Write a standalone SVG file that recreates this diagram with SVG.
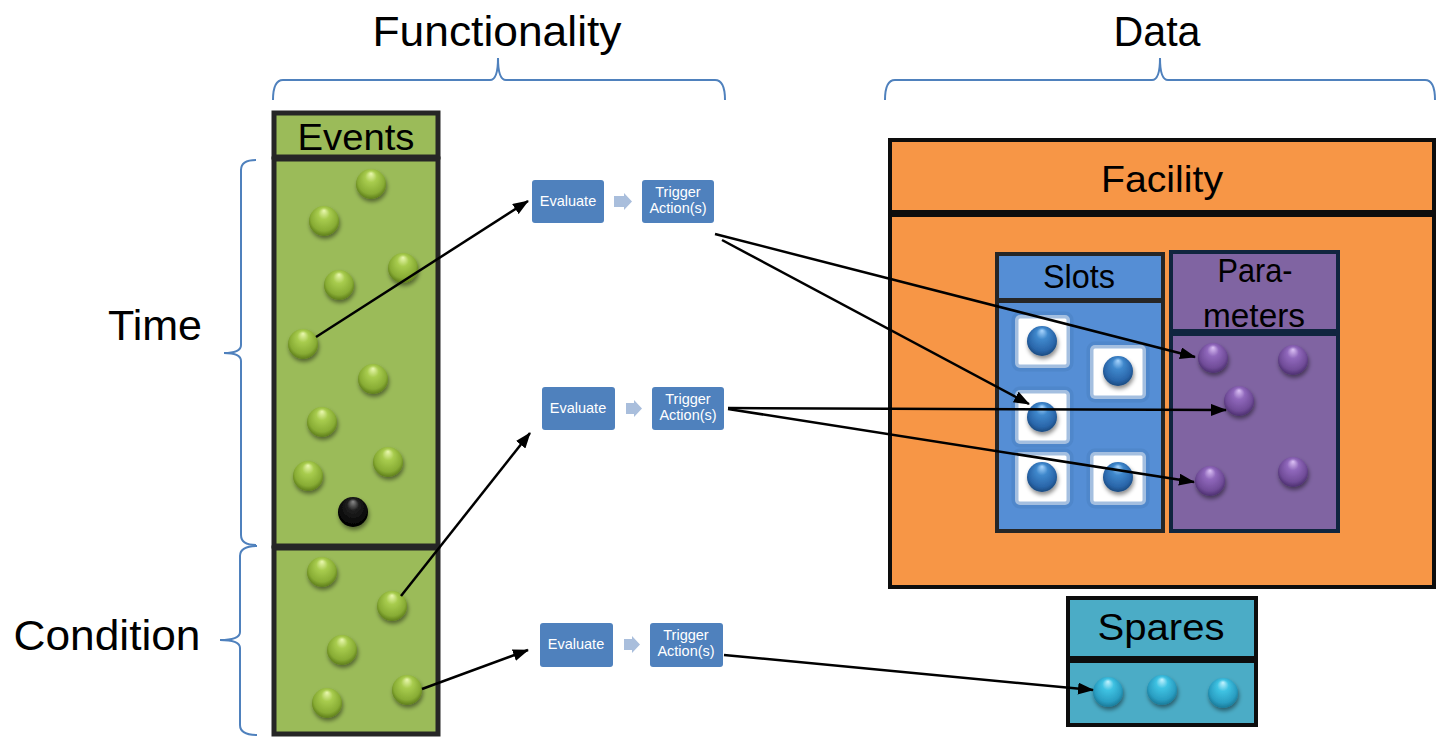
<svg xmlns="http://www.w3.org/2000/svg" width="1437" height="737" viewBox="0 0 1437 737">
  <style>
    .lbl { font-family: "Liberation Sans", Arial, sans-serif; fill: #000; }
    .big { font-size: 42px; }
    .hdr { font-size: 37px; }
    .btn { font-family: "Liberation Sans", Arial, sans-serif; font-size: 14.5px; fill: #fff; }
    .brace { fill: none; stroke: #4F81BD; stroke-width: 2; }
    .box { fill: #4F81BD; }
    .flow { fill: #A9BEDC; }
    .conn { fill: none; stroke: #000; stroke-width: 2.5; marker-end: url(#arrow); }
    .slotbox { fill: #fff; stroke: #4a7fc2; stroke-width: 7; stroke-opacity: 0.5; }
  </style>
  <defs>
    <marker id="arrow" viewBox="0 0 16 12" markerWidth="16" markerHeight="12" refX="15" refY="6" orient="auto" markerUnits="userSpaceOnUse">
      <path d="M0,0 L16,6 L0,12 z" fill="#000"/>
    </marker>
    <filter id="shadow" x="-50%" y="-50%" width="200%" height="200%">
      <feDropShadow dx="1" dy="3" stdDeviation="2" flood-color="#000" flood-opacity="0.45"/>
    </filter>
    <radialGradient id="gGreen" cx="0.5" cy="0.45" r="0.55" fx="0.5" fy="0.15">
      <stop offset="0" stop-color="#EAF8B0"/>
      <stop offset="0.35" stop-color="#A8CC4E"/>
      <stop offset="0.8" stop-color="#88AC34"/>
      <stop offset="1" stop-color="#5E7E1A"/>
    </radialGradient>
    <radialGradient id="gBlack" cx="0.5" cy="0.45" r="0.55" fx="0.5" fy="0.15">
      <stop offset="0" stop-color="#8a8a8a"/>
      <stop offset="0.35" stop-color="#202020"/>
      <stop offset="1" stop-color="#000"/>
    </radialGradient>
    <radialGradient id="gBlue" cx="0.5" cy="0.45" r="0.55" fx="0.5" fy="0.15">
      <stop offset="0" stop-color="#A9D6FF"/>
      <stop offset="0.35" stop-color="#3F88CC"/>
      <stop offset="0.8" stop-color="#2A66AA"/>
      <stop offset="1" stop-color="#1A4A80"/>
    </radialGradient>
    <radialGradient id="gPurple" cx="0.5" cy="0.45" r="0.55" fx="0.5" fy="0.15">
      <stop offset="0" stop-color="#DCC2F5"/>
      <stop offset="0.35" stop-color="#9068BC"/>
      <stop offset="0.8" stop-color="#704C98"/>
      <stop offset="1" stop-color="#4D3070"/>
    </radialGradient>
    <radialGradient id="gCyan" cx="0.5" cy="0.45" r="0.55" fx="0.5" fy="0.15">
      <stop offset="0" stop-color="#C4F3FF"/>
      <stop offset="0.35" stop-color="#3EC2E2"/>
      <stop offset="0.8" stop-color="#2A9EC2"/>
      <stop offset="1" stop-color="#1A7A98"/>
    </radialGradient>
  </defs>

  <rect x="0" y="0" width="1437" height="737" fill="#fff"/>

  <!-- column headings and braces -->
  <g id="headings">
    <text class="lbl big" x="497" y="46" text-anchor="middle" textLength="249" lengthAdjust="spacingAndGlyphs">Functionality</text>
    <text class="lbl big" x="1157" y="46" text-anchor="middle" textLength="87" lengthAdjust="spacingAndGlyphs">Data</text>
    <text class="lbl big" x="155" y="340" text-anchor="middle" textLength="94" lengthAdjust="spacingAndGlyphs">Time</text>
    <text class="lbl big" x="107" y="650" text-anchor="middle" textLength="187" lengthAdjust="spacingAndGlyphs">Condition</text>
    <path class="brace" d="M273,100 Q273,80 283,80 L490,80 Q498,80 498,58 Q498,80 506,80 L715,80 Q725,80 725,100"/>
    <path class="brace" d="M885,100 Q885,80 895,80 L1152,80 Q1160,80 1160,58 Q1160,80 1168,80 L1425,80 Q1435,80 1435,100"/>
    <path class="brace" d="M256,160 Q241,160 241,170 L241,345 Q241,353 224,353 Q241,353 241,361 L241,535 Q241,545 256,545"/>
    <path class="brace" d="M257,546 Q240,546 240,556 L240,632 Q240,640 220,640 Q240,640 240,648 L240,725 Q240,735 257,735"/>
  </g>

  <!-- Events column -->
  <g id="events">
    <rect x="274" y="113" width="164" height="44" fill="#9BBB59" stroke="#262626" stroke-width="5"/>
    <text class="lbl hdr" x="356" y="150" text-anchor="middle" textLength="117" lengthAdjust="spacingAndGlyphs">Events</text>
    <rect x="274" y="159" width="164" height="387" fill="#9BBB59" stroke="#262626" stroke-width="5"/>
    <rect x="274" y="548" width="164" height="186" fill="#9BBB59" stroke="#262626" stroke-width="5"/>
    <g filter="url(#shadow)">
      <circle cx="371" cy="184" r="15" fill="url(#gGreen)"/>
      <circle cx="324" cy="221" r="15" fill="url(#gGreen)"/>
      <circle cx="339" cy="285" r="15" fill="url(#gGreen)"/>
      <circle cx="403" cy="268" r="15" fill="url(#gGreen)"/>
      <circle cx="303" cy="344" r="15" fill="url(#gGreen)"/>
      <circle cx="373" cy="379" r="15" fill="url(#gGreen)"/>
      <circle cx="322" cy="422" r="15" fill="url(#gGreen)"/>
      <circle cx="308" cy="476" r="15" fill="url(#gGreen)"/>
      <circle cx="388" cy="462" r="15" fill="url(#gGreen)"/>
      <circle cx="353" cy="512" r="15" fill="url(#gBlack)"/>
      <circle cx="322" cy="572" r="15" fill="url(#gGreen)"/>
      <circle cx="392" cy="606" r="15" fill="url(#gGreen)"/>
      <circle cx="342" cy="650" r="15" fill="url(#gGreen)"/>
      <circle cx="327" cy="703" r="15" fill="url(#gGreen)"/>
      <circle cx="407" cy="690" r="15" fill="url(#gGreen)"/>
    </g>
  </g>

  <!-- Evaluate / Trigger pairs -->
  <g id="flow1">
    <rect class="box" x="532" y="180" width="72" height="43" rx="3"/>
    <text class="btn" x="568" y="206" text-anchor="middle">Evaluate</text>
    <polygon class="flow" points="614,196 624,196 624,193 632,201.5 624,210 624,207 614,207"/>
    <rect class="box" x="642" y="180" width="72" height="43" rx="3"/>
    <text class="btn" x="678" y="197" text-anchor="middle">Trigger</text>
    <text class="btn" x="678" y="213" text-anchor="middle">Action(s)</text>
  </g>
  <g id="flow2">
    <rect class="box" x="542" y="387" width="73" height="43" rx="3"/>
    <text class="btn" x="578" y="413" text-anchor="middle">Evaluate</text>
    <polygon class="flow" points="626,403 634,403 634,400 642,408.5 634,417 634,414 626,414"/>
    <rect class="box" x="652" y="387" width="72" height="43" rx="3"/>
    <text class="btn" x="688" y="404" text-anchor="middle">Trigger</text>
    <text class="btn" x="688" y="420" text-anchor="middle">Action(s)</text>
  </g>
  <g id="flow3">
    <rect class="box" x="540" y="623" width="73" height="44" rx="3"/>
    <text class="btn" x="576" y="649" text-anchor="middle">Evaluate</text>
    <polygon class="flow" points="624,639 632,639 632,636 640,644.5 632,653 632,650 624,650"/>
    <rect class="box" x="650" y="623" width="73" height="44" rx="3"/>
    <text class="btn" x="686" y="640" text-anchor="middle">Trigger</text>
    <text class="btn" x="686" y="656" text-anchor="middle">Action(s)</text>
  </g>

  <!-- Facility -->
  <g id="facility">
    <rect x="890" y="140" width="544" height="72" fill="#F79646" stroke="#0d0d0d" stroke-width="4"/>
    <text class="lbl hdr" x="1162" y="192" text-anchor="middle" textLength="122" lengthAdjust="spacingAndGlyphs">Facility</text>
    <rect x="890" y="215" width="544" height="372" fill="#F79646" stroke="#0d0d0d" stroke-width="4"/>
  </g>

  <!-- Slots -->
  <g id="slots">
    <rect x="997" y="254" width="166" height="46" fill="#558ED5" stroke="#262626" stroke-width="4"/>
    <text class="lbl" style="font-size:33px" x="1079" y="288" text-anchor="middle" textLength="72" lengthAdjust="spacingAndGlyphs">Slots</text>
    <rect x="997" y="301" width="166" height="230" fill="#558ED5" stroke="#262626" stroke-width="4"/>
    <rect class="slotbox" x="1015" y="315" width="55" height="53" rx="5"/>
    <rect class="slotbox" x="1090" y="345" width="56" height="54" rx="5"/>
    <rect class="slotbox" x="1015" y="390" width="55" height="54" rx="5"/>
    <rect class="slotbox" x="1015" y="452" width="55" height="53" rx="5"/>
    <rect class="slotbox" x="1090" y="452" width="56" height="53" rx="5"/>
    <g filter="url(#shadow)">
      <circle cx="1042" cy="341" r="15" fill="url(#gBlue)"/>
      <circle cx="1118" cy="371" r="15" fill="url(#gBlue)"/>
      <circle cx="1042" cy="417" r="15" fill="url(#gBlue)"/>
      <circle cx="1042" cy="477" r="15" fill="url(#gBlue)"/>
      <circle cx="1118" cy="477" r="15" fill="url(#gBlue)"/>
    </g>
  </g>

  <!-- Parameters -->
  <g id="parameters">
    <rect x="1171" y="252" width="167" height="79" fill="#8064A2" stroke="#10253F" stroke-width="4"/>
    <text class="lbl" style="font-size:33px" x="1255" y="282" text-anchor="middle" textLength="75" lengthAdjust="spacingAndGlyphs">Para-</text>
    <text class="lbl" style="font-size:33px" x="1254" y="327" text-anchor="middle" textLength="102" lengthAdjust="spacingAndGlyphs">meters</text>
    <rect x="1171" y="334" width="167" height="197" fill="#8064A2" stroke="#10253F" stroke-width="4"/>
    <g filter="url(#shadow)">
      <circle cx="1213" cy="358" r="15" fill="url(#gPurple)"/>
      <circle cx="1293" cy="360" r="15" fill="url(#gPurple)"/>
      <circle cx="1239" cy="401" r="15" fill="url(#gPurple)"/>
      <circle cx="1210" cy="481" r="15" fill="url(#gPurple)"/>
      <circle cx="1293" cy="472" r="15" fill="url(#gPurple)"/>
    </g>
  </g>

  <!-- Spares -->
  <g id="spares">
    <rect x="1068" y="598" width="188" height="60" fill="#4BACC6" stroke="#0d0d0d" stroke-width="4"/>
    <text class="lbl hdr" x="1161" y="640" text-anchor="middle" textLength="127" lengthAdjust="spacingAndGlyphs">Spares</text>
    <rect x="1068" y="661" width="188" height="64" fill="#4BACC6" stroke="#0d0d0d" stroke-width="4"/>
    <g filter="url(#shadow)">
      <circle cx="1108" cy="692" r="15" fill="url(#gCyan)"/>
      <circle cx="1162" cy="690" r="15" fill="url(#gCyan)"/>
      <circle cx="1223" cy="693" r="15" fill="url(#gCyan)"/>
    </g>
  </g>

  <!-- connectors -->
  <g id="connectors">
    <line class="conn" x1="316" y1="337" x2="528" y2="201"/>
    <line class="conn" x1="715" y1="234" x2="1195" y2="357"/>
    <line class="conn" x1="722" y1="240" x2="1029" y2="404"/>
    <line class="conn" x1="728" y1="408" x2="1226" y2="410"/>
    <line class="conn" x1="728" y1="409" x2="1194" y2="482"/>
    <line class="conn" x1="401" y1="596" x2="530" y2="433"/>
    <line class="conn" x1="422" y1="689" x2="528" y2="650"/>
    <line class="conn" x1="724" y1="655" x2="1093" y2="690"/>
  </g>
</svg>
